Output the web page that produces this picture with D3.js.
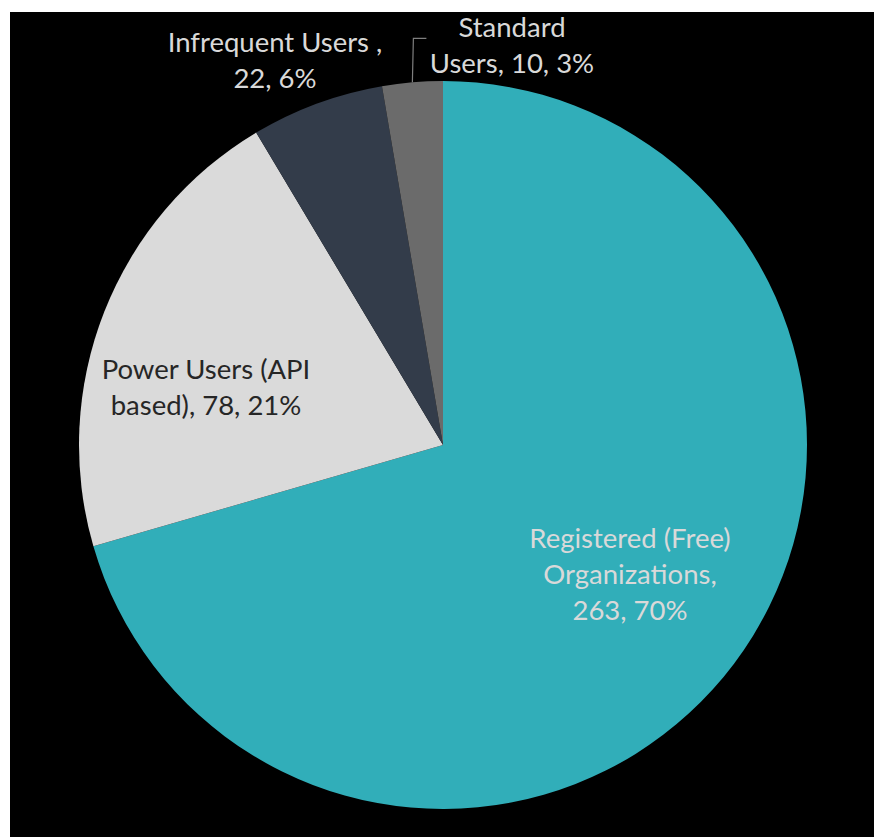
<!DOCTYPE html>
<html>
<head>
<meta charset="utf-8">
<script src="https://cdn.jsdelivr.net/npm/d3@7"></script>
<style>
  body { margin: 0; background: #fff; }
  svg { display: block; }
</style>
</head>
<body>
<svg id="chart"></svg>
<script>
const categories = ['Registered (Free) Organizations', 'Power Users (API based)', 'Infrequent Users ', 'Standard Users']
const values = [263, 78, 22, 10]
const pctLabels = ['70%', '21%', '6%', '3%']
const colors = ['#31aeb9', '#dadada', '#333c4a', '#6b6b6b']

// label lines as shown on the chart
const labelLines = [
  ['Registered (Free)', 'Organizations,', '263, 70%'],
  ['Power Users (API', 'based), 78, 21%'],
  ['Infrequent Users ,', '22, 6%'],
  ['Standard', 'Users, 10, 3%']
]

const width = 874
const height = 837
const cx = 443, cy = 445, radius = 364

const svg = d3.select('#chart')
  .attr('width', width)
  .attr('height', height)

svg.append('rect')
  .attr('x', 10)
  .attr('y', 12)
  .attr('width', width - 10)
  .attr('height', height - 12)
  .attr('fill', '#000')

const pie = d3.pie()
  .sort(null)
  .value(d => d)

const arc = d3.arc()
  .innerRadius(0)
  .outerRadius(radius)

const arcs = pie(values)

const g = svg.append('g')
  .attr('transform', `translate(${cx},${cy})`)

g.selectAll('path')
  .data(arcs)
  .enter()
  .append('path')
  .attr('d', arc)
  .attr('fill', (d, i) => colors[i])

// leader line for the small slice
const small = arcs[3]
const midA = (small.startAngle + small.endAngle) / 2
const lx = Math.sin(midA) * radius
const ly = -Math.cos(midA) * radius
g.append('polyline')
  .attr('points', [[lx, ly], [lx + 1, ly - 44], [lx + 14, ly - 44]].map(p => p.join(',')).join(' '))
  .attr('fill', 'none')
  .attr('stroke', '#7f7f7f')
  .attr('stroke-width', 1.2)

// label anchor (center x, first baseline y) and colour
const labelPos = [
  { x: 630, y: 548, fill: '#d9d9d9' },
  { x: 206, y: 379, fill: '#262626' },
  { x: 275, y: 52, fill: '#d9d9d9' },
  { x: 512, y: 37, fill: '#d9d9d9' }
]
const lineH = 36

labelLines.forEach((lines, i) => {
  const t = svg.append('text')
    .attr('text-anchor', 'middle')
    .attr('font-family', 'Lato, "Open Sans", sans-serif')
    .attr('font-size', '27.5px')
    .attr('fill', labelPos[i].fill)
  lines.forEach((ln, j) => {
    t.append('tspan')
      .attr('x', labelPos[i].x)
      .attr('y', labelPos[i].y + j * lineH)
      .text(ln)
  })
})
</script>
</body>
</html>
